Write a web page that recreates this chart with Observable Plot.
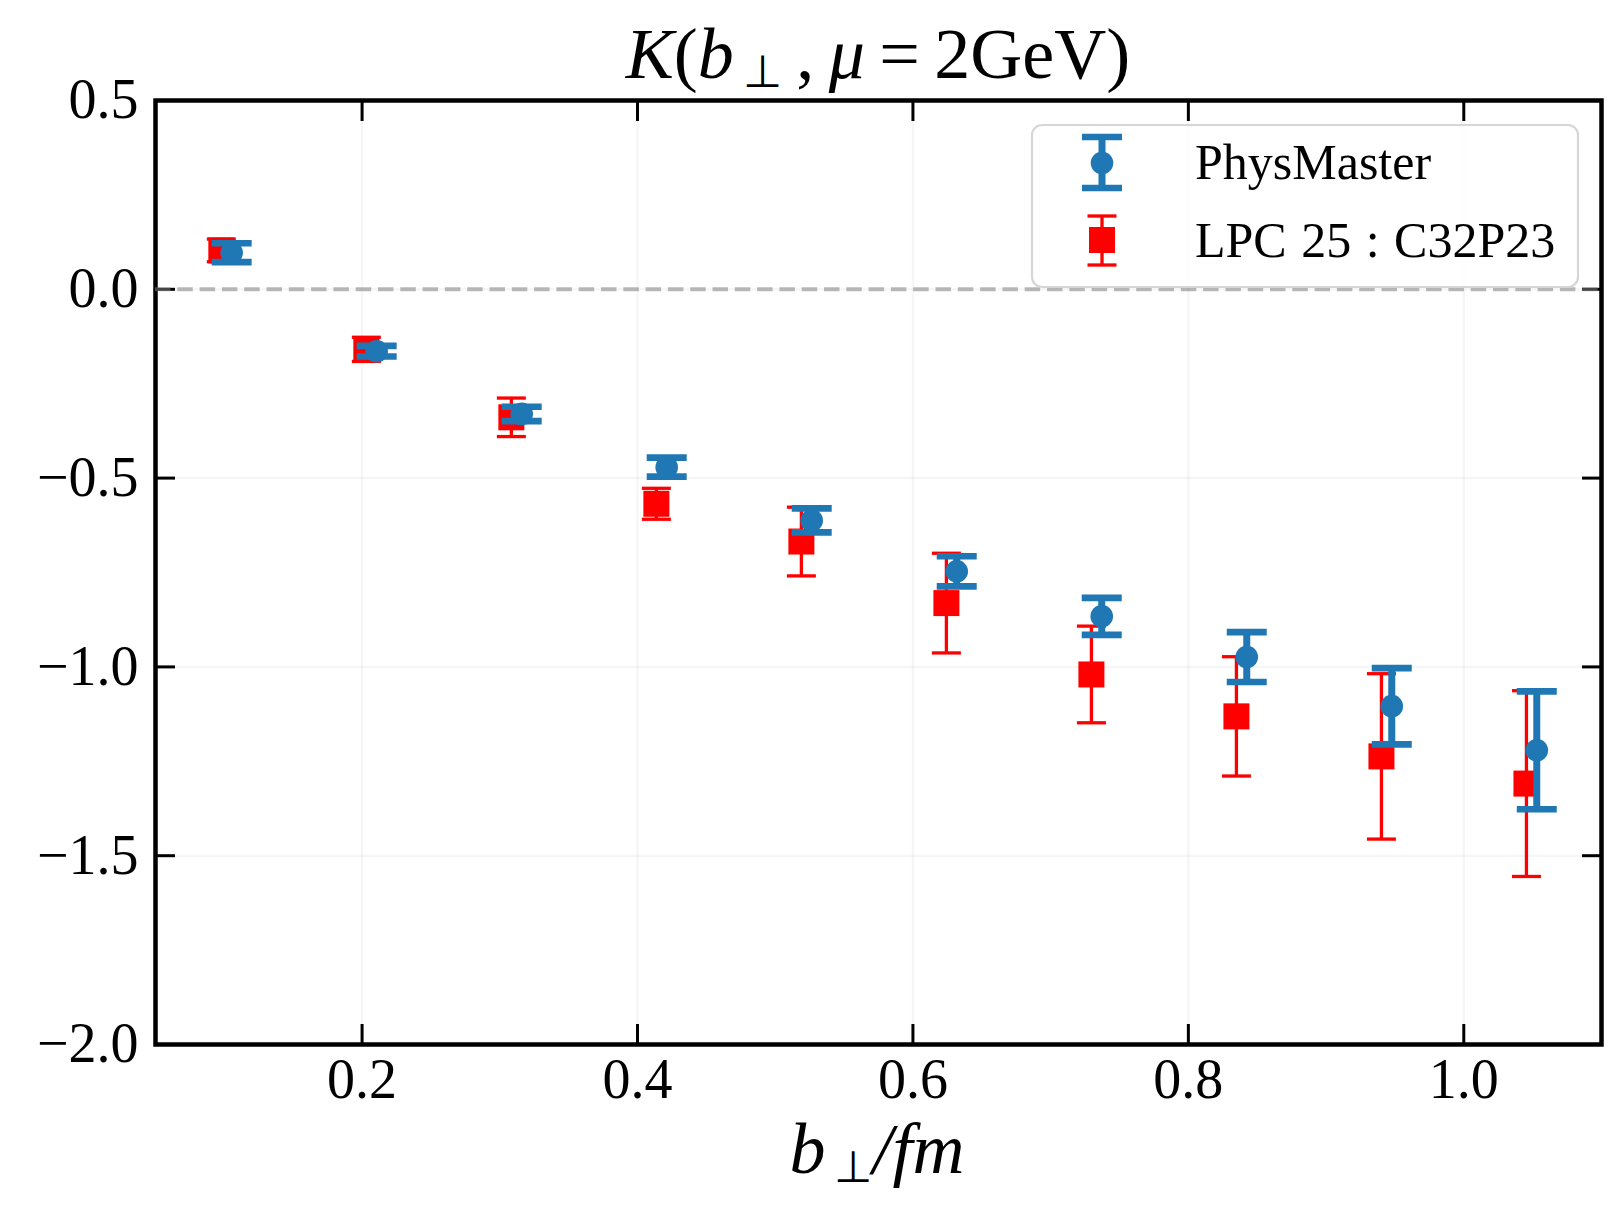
<!DOCTYPE html>
<html><head><meta charset="utf-8">
<script src="https://cdn.jsdelivr.net/npm/d3@7"></script>
<script src="https://cdn.jsdelivr.net/npm/@observablehq/plot@0.6"></script>
<style>body{margin:0;background:#fff;}</style>
</head><body><div id="chart"></div>
<script>
// PhysMaster series
const physX = [0.1053,0.2106,0.3159,0.4212,0.5265,0.6318,0.7371,0.8424,0.9477,1.0530];
const physY = [0.097,-0.164,-0.330,-0.471,-0.612,-0.747,-0.866,-0.974,-1.104,-1.221];
const physErr = [0.025,0.014,0.019,0.025,0.032,0.040,0.049,0.066,0.101,0.156];
// LPC 25 : C32P23 series
const lpcX = [0.0978,0.2031,0.3084,0.4137,0.5190,0.6243,0.7296,0.8349,0.9402,1.0455];
const lpcY = [0.103,-0.159,-0.339,-0.568,-0.668,-0.831,-1.020,-1.131,-1.237,-1.309];
const lpcErr = [0.030,0.032,0.051,0.041,0.091,0.132,0.128,0.158,0.219,0.246];
// ticks
const xTicks = [0.2,0.4,0.6,0.8,1.0];
const yTicks = [0.5,0.0,-0.5,-1.0,-1.5,-2.0];
const seriesNames = ["PhysMaster", "LPC 25 : C32P23"];

const phys = physX.map((x,i)=>({x, y:physY[i], lo:physY[i]-physErr[i], hi:physY[i]+physErr[i]}));
const lpc = lpcX.map((x,i)=>({x, y:lpcY[i], lo:lpcY[i]-lpcErr[i], hi:lpcY[i]+lpcErr[i]}));

const hline = {draw(ctx, size){const h=Math.sqrt(size/Math.PI); ctx.moveTo(-h,0); ctx.lineTo(h,0);}};
const fmt = d3.format(".1f");
const BLUE = "#1f77b4", RED = "#ff0000";

const chart = Plot.plot({
  width:1610, height:1209,
  marginLeft:155, marginRight:9, marginTop:100, marginBottom:165,
  style:{fontFamily:"'Liberation Serif', 'Times New Roman', serif", fontSize:"56px", background:"#fff", color:"#000"},
  x:{domain:[0.05,1.1], label:null},
  y:{domain:[-2,0.5], label:null},
  marks:[
    Plot.gridX(xTicks, {stroke:"#000", strokeOpacity:0.035, strokeWidth:2.5}),
    Plot.gridY(yTicks, {stroke:"#000", strokeOpacity:0.035, strokeWidth:2.5}),
    Plot.axisX({ticks:xTicks, anchor:"bottom", tickSize:-20, tickPadding:34, tickFormat:fmt, strokeWidth:3, label:null}),
    Plot.axisX({ticks:xTicks, anchor:"top", tickSize:-20, tickFormat:()=>"", fill:"none", strokeWidth:3, label:null}),
    Plot.axisY({ticks:yTicks, anchor:"left", tickSize:-20, tickPadding:37, tickFormat:fmt, strokeWidth:3, label:null}),
    Plot.axisY({ticks:yTicks, anchor:"right", tickSize:-20, tickFormat:()=>"", fill:"none", strokeWidth:3, label:null}),
    Plot.frame({stroke:"#000", strokeWidth:4.5}),
    Plot.ruleY([0], {stroke:"#808080", strokeOpacity:0.55, strokeWidth:4, strokeDasharray:"15.5 6.8"}),
    // LPC
    Plot.ruleX(lpc, {x:"x", y1:"lo", y2:"hi", stroke:RED, strokeWidth:3.3}),
    Plot.dot(lpc, {x:"x", y:"lo", symbol:hline, r:14.5, stroke:RED, strokeWidth:3.3, fill:"none"}),
    Plot.dot(lpc, {x:"x", y:"hi", symbol:hline, r:14.5, stroke:RED, strokeWidth:3.3, fill:"none"}),
    Plot.dot(lpc, {x:"x", y:"y", symbol:"square", r:14.67, fill:RED, stroke:"none"}),
    // PhysMaster
    Plot.ruleX(phys, {x:"x", y1:"lo", y2:"hi", stroke:BLUE, strokeWidth:7}),
    Plot.dot(phys, {x:"x", y:"lo", symbol:hline, r:20, stroke:BLUE, strokeWidth:6.7, fill:"none"}),
    Plot.dot(phys, {x:"x", y:"hi", symbol:hline, r:20, stroke:BLUE, strokeWidth:6.7, fill:"none"}),
    Plot.dot(phys, {x:"x", y:"y", symbol:"circle", r:11.3, fill:BLUE, stroke:"none"})
  ]
});
document.getElementById("chart").appendChild(chart);

const svg = d3.select(chart);
const FONT = "'Liberation Serif', 'Times New Roman', serif";
// Title
const t = svg.append("text").attr("x",878).attr("y",78).attr("text-anchor","middle")
  .attr("font-family",FONT).attr("font-size",72).attr("fill","#000");
t.append("tspan").attr("font-style","italic").text("K");
t.append("tspan").text("(");
t.append("tspan").attr("font-style","italic").text("b");
t.append("tspan").attr("font-size",45).attr("dy",9).text("\u2009\u22A5");
t.append("tspan").attr("dy",-9).text("\u2009,\u2009");
t.append("tspan").attr("font-style","italic").text("\u03BC");
t.append("tspan").text("\u2009=\u20092GeV)");

// X label
const xl = svg.append("text").attr("x",877).attr("y",1173).attr("text-anchor","middle")
  .attr("font-family",FONT).attr("font-size",72).attr("fill","#000");
xl.append("tspan").attr("font-style","italic").text("b");
xl.append("tspan").attr("font-size",44).attr("dy",9).text("\u2009\u22A5");
xl.append("tspan").attr("dy",-9).attr("font-style","italic").text("/fm");

// Legend
const lg = svg.append("g");
lg.append("rect").attr("x",1032).attr("y",125).attr("width",546).attr("height",162).attr("rx",10)
  .attr("fill","#fff").attr("fill-opacity",0.8).attr("stroke","#d6d6d6").attr("stroke-width",2.2);
// blue handle
lg.append("line").attr("x1",1102).attr("x2",1102).attr("y1",137).attr("y2",188).attr("stroke",BLUE).attr("stroke-width",7);
[137,188].forEach(y=>lg.append("line").attr("x1",1082).attr("x2",1122).attr("y1",y).attr("y2",y).attr("stroke",BLUE).attr("stroke-width",6.7));
lg.append("circle").attr("cx",1102).attr("cy",163).attr("r",11.3).attr("fill",BLUE);
// red handle
lg.append("line").attr("x1",1102).attr("x2",1102).attr("y1",216).attr("y2",265).attr("stroke",RED).attr("stroke-width",3.3);
[216,265].forEach(y=>lg.append("line").attr("x1",1087.5).attr("x2",1116.5).attr("y1",y).attr("y2",y).attr("stroke",RED).attr("stroke-width",3.3));
lg.append("rect").attr("x",1089).attr("y",227).attr("width",26).attr("height",26).attr("fill",RED);
lg.append("text").attr("x",1195).attr("y",179).attr("text-anchor","start").attr("font-family",FONT).attr("font-size",50).attr("fill","#000").text(seriesNames[0]);
lg.append("text").attr("x",1195).attr("y",257).attr("text-anchor","start").attr("font-family",FONT).attr("font-size",50).attr("fill","#000").attr("word-spacing",2).text(seriesNames[1]);
</script>
</body></html>
